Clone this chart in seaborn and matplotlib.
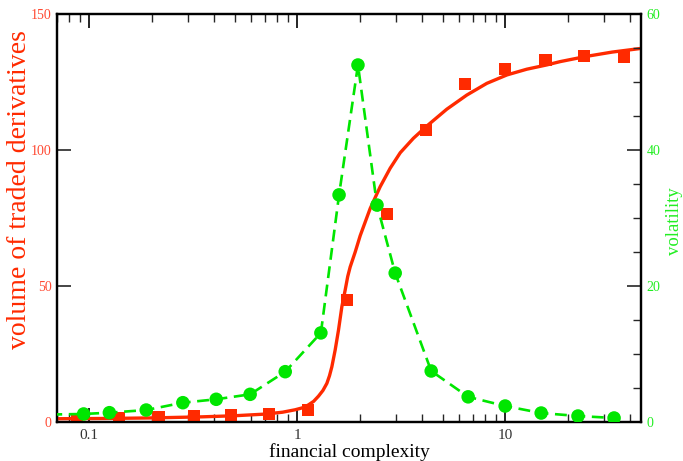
import numpy as np
import pandas as pd
import matplotlib
matplotlib.use("Agg")
import matplotlib.pyplot as plt
import matplotlib.ticker as mticker
import seaborn as sns

# ---- data ----
vol_x = [0.0875, 0.139, 0.215, 0.32, 0.48, 0.73, 1.13, 1.74, 2.71, 4.17, 6.42, 10.0, 15.6, 24.0, 37.3]
vol_y = [0.6, 1.5, 1.8, 2.1, 2.6, 3.0, 4.4, 44.9, 76.5, 107.4, 124.3, 129.8, 133.1, 134.6, 134.2]

fit_x = [0.07, 0.12, 0.2, 0.35, 0.5, 0.7, 0.85, 0.978, 1.07, 1.133, 1.2, 1.266, 1.33, 1.389,
         1.43, 1.468, 1.523, 1.58, 1.64, 1.701, 1.75, 1.798, 1.901, 2.009, 2.244, 2.506, 2.80,
         3.13, 3.62, 4.20, 5.24, 6.54, 8.16, 10.2, 12.7, 15.9, 18.4, 24.5, 32.7, 44.5]
fit_y = [1.2, 1.3, 1.5, 1.9, 2.3, 2.9, 3.6, 4.5, 5.3, 6.3, 7.6, 9.5, 11.6, 14.2,
         17.0, 20.3, 26.5, 33.8, 42.4, 48.5, 53.5, 57.0, 62.5, 68.5, 78.5, 86.5, 93.3,
         99.0, 104.3, 108.8, 115.0, 120.2, 124.5, 127.6, 129.7, 131.3, 132.5, 134.4, 136.0, 137.3]

volat_x = [0.094, 0.125, 0.188, 0.282, 0.408, 0.594, 0.876, 1.30, 1.59, 1.96, 2.42, 2.96,
           4.41, 6.64, 10.0, 14.9, 22.4, 33.4]
volat_y = [1.18, 1.37, 1.76, 2.84, 3.34, 4.07, 7.4, 13.1, 33.4, 52.5, 31.9, 21.9,
           7.5, 3.7, 2.35, 1.32, 0.88, 0.59]
volat_line_start = (0.065, 1.1)

xticks = [0.1, 1, 10]
xticklabels = ["0.1", "1", "10"]
yticks_left = [0, 50, 100, 150]
yticks_right = [0, 20, 40, 60]

RED = "#ff2a00"
RED_TXT = "#ff4a33"
GREEN = "#00e600"
GREEN_TXT = "#22ee22"

sns.set_style("white")
plt.rcParams['font.family'] = ['Liberation Serif', 'DejaVu Serif']

fig = plt.figure(figsize=(6.83, 4.61), dpi=100)
ax = fig.add_axes([57/683, 1-422/461, (641-57)/683, (422-14)/461])
ax2 = ax.twinx()

df_fit = pd.DataFrame({"x": fit_x, "y": fit_y})
df_vol = pd.DataFrame({"x": vol_x, "y": vol_y})
sns.lineplot(data=df_fit, x="x", y="y", ax=ax, color=RED, lw=2.4, zorder=3)
sns.scatterplot(data=df_vol, x="x", y="y", ax=ax, color=RED, marker="s", s=80,
                edgecolor="none", zorder=4)

lx = [volat_line_start[0]] + volat_x
ly = [volat_line_start[1]] + volat_y
df_vl = pd.DataFrame({"x": lx, "y": ly})
df_v = pd.DataFrame({"x": volat_x, "y": volat_y})
sns.lineplot(data=df_vl, x="x", y="y", ax=ax2, color=GREEN, lw=1.9, zorder=3)
ax2.lines[-1].set_dashes((4.5, 2.5))
sns.scatterplot(data=df_v, x="x", y="y", ax=ax2, color=GREEN, marker="o", s=95,
                edgecolor="none", zorder=4)

ax.set_xscale("log")
ax.set_xlim(0.07, 45)
ax.set_ylim(0, 150)
ax2.set_ylim(0, 60)

ax.set_xticks(xticks)
ax.set_xticklabels(xticklabels)
ax.xaxis.set_minor_locator(mticker.LogLocator(subs=np.arange(2, 10)))
ax.xaxis.set_minor_formatter(mticker.NullFormatter())
ax.set_yticks(yticks_left)
ax2.set_yticks(yticks_right)
ax2.yaxis.set_minor_locator(mticker.MultipleLocator(5))

ax.tick_params(axis="x", which="major", direction="in", length=10, width=1.2, top=True,
               bottom=True, labelsize=11, colors="black", labelcolor="#333333", pad=5)
ax.tick_params(axis="x", which="minor", direction="in", length=6, width=1.0, top=True, bottom=True)
ax.tick_params(axis="y", which="major", direction="in", length=10, width=1.2, left=True,
               right=False, labelsize=10, labelcolor=RED_TXT, pad=4)
ax2.tick_params(axis="y", which="major", direction="in", length=10, width=1.2, right=True,
                labelsize=10, labelcolor=GREEN_TXT, pad=4)
ax2.tick_params(axis="y", which="minor", direction="in", length=6, width=1.0, right=True)

for a in (ax, ax2):
    for sp in a.spines.values():
        sp.set_linewidth(1.6)
        sp.set_color("black")

ax.set_xlabel("financial complexity", fontsize=14, color="black", labelpad=0.5)
ax.set_ylabel("volume of traded derivatives", fontsize=20, color=RED)
ax.yaxis.set_label_coords(-0.043, 0.569)
ax2.set_ylabel("volatility", fontsize=13.5, color=GREEN_TXT)
ax2.yaxis.set_label_coords(1.042, 0.493)

fig.savefig("out.png", dpi=100)
